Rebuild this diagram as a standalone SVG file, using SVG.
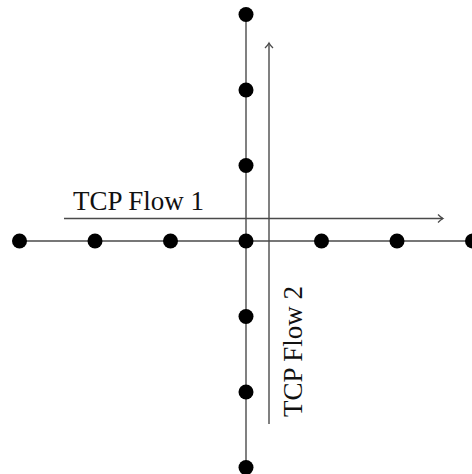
<svg xmlns="http://www.w3.org/2000/svg" width="472" height="474" viewBox="0 0 472 474">
<style>
.ln{stroke:#4a4a4a;stroke-width:1.4;fill:none}
.dot{fill:#000}
.lbl{font-family:"Liberation Serif","Times New Roman",serif;font-size:27px;fill:#111}
</style>
<defs>
<marker id="arr" markerWidth="10" markerHeight="10" refX="8" refY="5" orient="auto" markerUnits="userSpaceOnUse">
<path d="M3,1 Q6,4 8,5 Q6,6 3,9" fill="none" stroke="#4a4a4a" stroke-width="1.3"/>
</marker>
</defs>
<rect width="472" height="474" fill="#fff"/>
<g id="connectors">
<line class="ln" x1="246" y1="14.5" x2="246" y2="467.5"/>
<line class="ln" x1="19.5" y1="241" x2="472" y2="241"/>
<line class="ln" x1="64" y1="218.5" x2="443" y2="218.5" marker-end="url(#arr)"/>
<line class="ln" x1="269" y1="424" x2="269" y2="43" marker-end="url(#arr)"/>
</g>
<g id="nodes">
<circle class="dot" cx="246" cy="14.5" r="7.5"/>
<circle class="dot" cx="246" cy="90" r="7.5"/>
<circle class="dot" cx="246" cy="165.5" r="7.5"/>
<circle class="dot" cx="246" cy="241" r="7.5"/>
<circle class="dot" cx="246" cy="316.5" r="7.5"/>
<circle class="dot" cx="246" cy="392" r="7.5"/>
<circle class="dot" cx="246" cy="467.5" r="7.5"/>
<circle class="dot" cx="19.5" cy="241" r="7.5"/>
<circle class="dot" cx="95" cy="241" r="7.5"/>
<circle class="dot" cx="170.5" cy="241" r="7.5"/>
<circle class="dot" cx="321.5" cy="241" r="7.5"/>
<circle class="dot" cx="397" cy="241" r="7.5"/>
<circle class="dot" cx="472.5" cy="241" r="7.5"/>
</g>
<g id="labels">
<text class="lbl" x="73" y="210">TCP Flow 1</text>
<text class="lbl" transform="translate(302,417) rotate(-90)">TCP Flow 2</text>
</g>
</svg>
